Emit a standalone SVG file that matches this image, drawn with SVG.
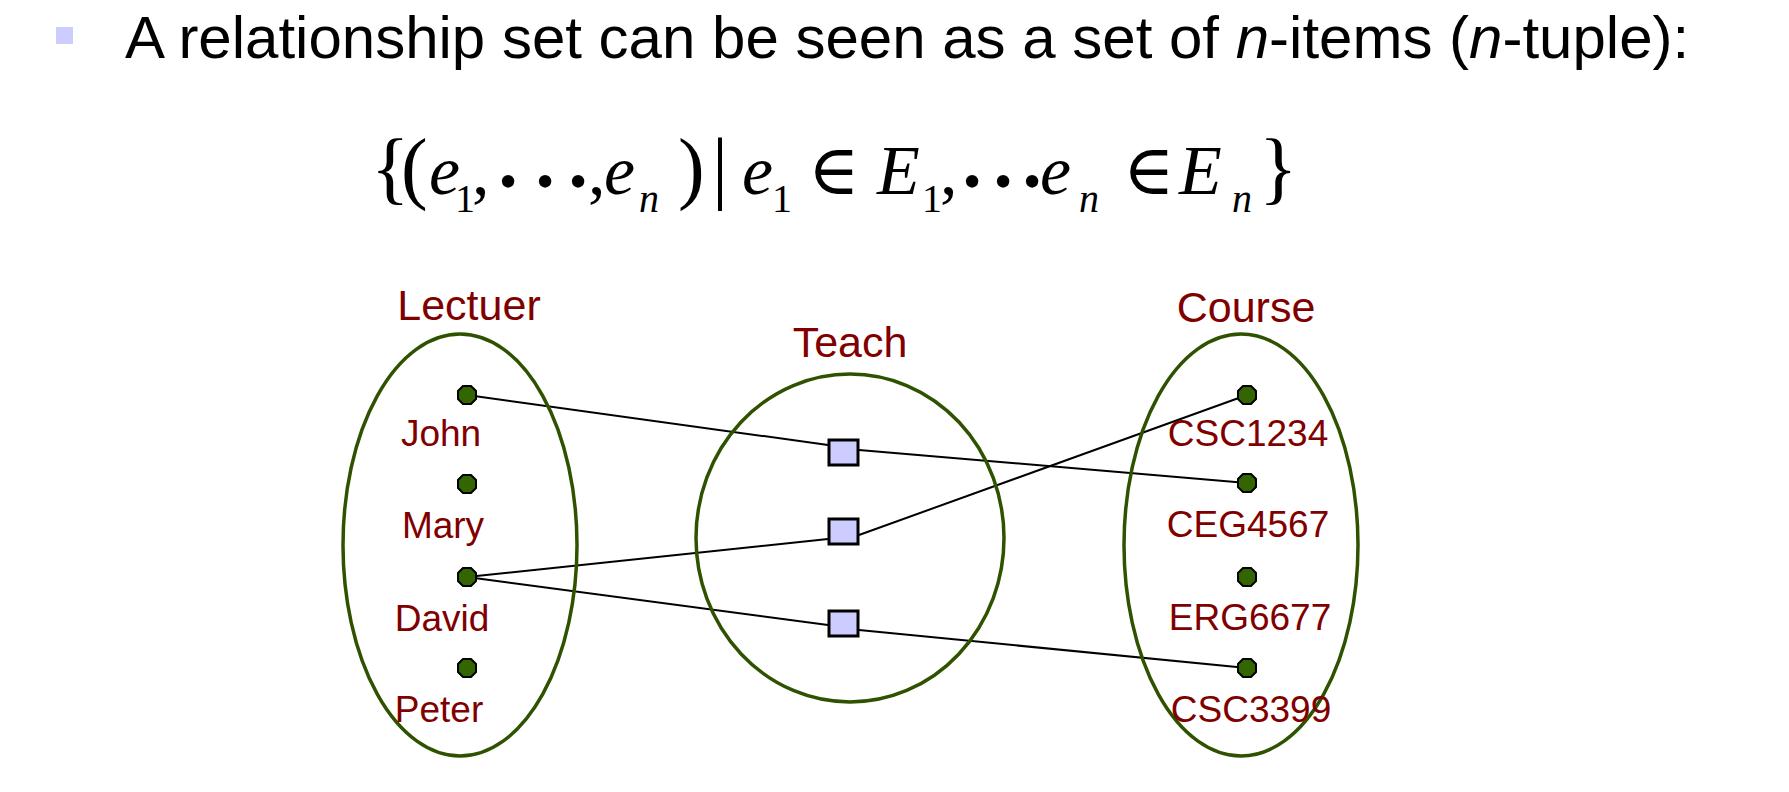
<svg xmlns="http://www.w3.org/2000/svg" xmlns:xlink="http://www.w3.org/1999/xlink" width="1789" height="792" viewBox="0 0 1789 792">
<style>
.title{font-family:"Liberation Sans",Arial,sans-serif;font-size:60px;fill:#000}
.m{font-family:"Liberation Serif","DejaVu Serif",serif;font-size:70px;fill:#000}
.it{font-style:italic}
.big{font-size:80px}
.sub{font-size:40px}
.dt{font-size:52px;text-anchor:middle}
.el{font-family:"DejaVu Serif",serif;font-size:70px;text-anchor:middle}
.bar{text-anchor:middle}
.hdr{font-family:"Liberation Sans",Arial,sans-serif;font-size:43px;fill:#800000;text-anchor:middle}
.lbl{font-family:"Liberation Sans",Arial,sans-serif;font-size:37px;fill:#800000;text-anchor:middle}
.set{fill:none;stroke:#2e5200;stroke-width:3.5}
.dot{fill:#336600;stroke:#000;stroke-width:2}
.rel{fill:#ccccff;stroke:#000;stroke-width:3}
.edge{stroke:#000;stroke-width:2;fill:none}
</style>
<defs>
<polygon id="oct" points="-4,-9 4,-9 9,-4 9,4 4,9 -4,9 -9,4 -9,-4"/>
</defs>
<rect width="1789" height="792" fill="#fff"/>
<g id="title">
<rect x="56" y="27" width="17" height="17" fill="#ccccff"/>
<text class="title" x="125" y="58">A relationship set can be seen as a set of <tspan font-style="italic">n</tspan>-items (<tspan font-style="italic">n</tspan>-tuple):</text>
</g>
<g id="formula">
<text class="m big" x="371" y="194">{</text>
<text class="m big" x="401" y="194">(</text>
<text class="m it" x="429" y="194">e</text>
<text class="m sub" x="455" y="212">1</text>
<text class="m" x="472" y="194">,</text>
<text class="m dt" x="508" y="199">•</text>
<text class="m dt" x="545" y="199">•</text>
<text class="m dt" x="578" y="199">•</text>
<text class="m" x="588" y="194">,</text>
<text class="m it" x="604" y="194">e</text>
<text class="m sub it" x="639" y="212">n</text>
<text class="m big" x="678" y="194">)</text>
<text class="m big bar" x="720" y="194">|</text>
<text class="m it" x="742" y="194">e</text>
<text class="m sub" x="772" y="212">1</text>
<text class="m el" x="834" y="194">∈</text>
<text class="m it" x="877" y="194">E</text>
<text class="m sub" x="922" y="212">1</text>
<text class="m" x="940" y="194">,</text>
<text class="m dt" x="972" y="199">•</text>
<text class="m dt" x="1003" y="199">•</text>
<text class="m dt" x="1032" y="199">•</text>
<text class="m it" x="1040" y="194">e</text>
<text class="m sub it" x="1079" y="212">n</text>
<text class="m el" x="1149" y="194">∈</text>
<text class="m it" x="1179" y="194">E</text>
<text class="m sub it" x="1232" y="212">n</text>
<text class="m big" x="1259" y="194">}</text>
</g>
<g id="connectors">
<line class="edge" x1="467" y1="395" x2="828" y2="445"/>
<line class="edge" x1="859" y1="450" x2="1247" y2="483"/>
<line class="edge" x1="467" y1="577" x2="828" y2="539"/>
<line class="edge" x1="859" y1="535" x2="1247" y2="395"/>
<line class="edge" x1="467" y1="577" x2="828" y2="625"/>
<line class="edge" x1="859" y1="630" x2="1247" y2="668"/>
</g>
<g id="lecturer">
<text class="hdr" x="469" y="320">Lectuer</text>
<ellipse class="set" cx="460" cy="545" rx="117" ry="211"/>
</g>
<g id="teach">
<text class="hdr" x="850" y="357">Teach</text>
<ellipse class="set" cx="850" cy="538" rx="154" ry="164"/>
</g>
<g id="course">
<text class="hdr" x="1246" y="322">Course</text>
<ellipse class="set" cx="1241" cy="545" rx="117" ry="211"/>
</g>
<g id="john"><use xlink:href="#oct" class="dot" x="467" y="395"/><text class="lbl" x="441" y="446">John</text></g>
<g id="mary"><use xlink:href="#oct" class="dot" x="467" y="484"/><text class="lbl" x="443" y="538">Mary</text></g>
<g id="david"><use xlink:href="#oct" class="dot" x="467" y="577"/><text class="lbl" x="442" y="631">David</text></g>
<g id="peter"><use xlink:href="#oct" class="dot" x="467" y="668"/><text class="lbl" x="439" y="722">Peter</text></g>
<g id="csc1234"><use xlink:href="#oct" class="dot" x="1247" y="395"/><text class="lbl" x="1248" y="446">CSC1234</text></g>
<g id="ceg4567"><use xlink:href="#oct" class="dot" x="1247" y="483"/><text class="lbl" x="1248" y="537">CEG4567</text></g>
<g id="erg6677"><use xlink:href="#oct" class="dot" x="1247" y="577"/><text class="lbl" x="1250" y="630">ERG6677</text></g>
<g id="csc3399"><use xlink:href="#oct" class="dot" x="1247" y="668"/><text class="lbl" x="1251" y="722">CSC3399</text></g>
<g id="t1"><rect class="rel" x="829" y="440" width="29" height="25"/></g>
<g id="t2"><rect class="rel" x="829" y="519" width="29" height="25"/></g>
<g id="t3"><rect class="rel" x="829" y="611" width="29" height="25"/></g>
</svg>
